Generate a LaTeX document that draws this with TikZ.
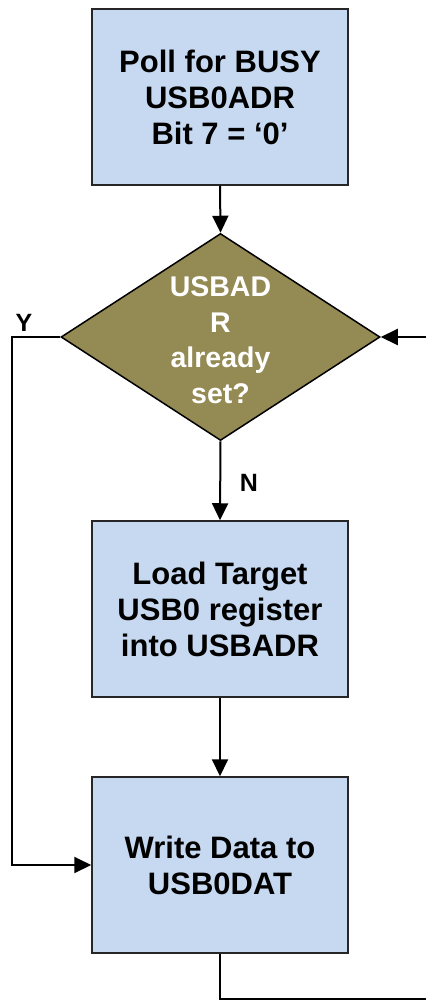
\documentclass[tikz,border=0pt]{standalone}
\usepackage{fontspec}
\setmainfont{Liberation Sans}
\usetikzlibrary{arrows.meta,shapes.geometric}
\definecolor{boxblue}{HTML}{C6D9F1}
\definecolor{olive}{HTML}{948A54}
\begin{document}
\begin{tikzpicture}[x=1pt,y=1pt,
  procbox/.style={draw=black!85,line width=1.5pt,fill=boxblue,minimum width=256pt,minimum height=176pt,inner sep=0pt},
  btxt/.style={font=\fontsize{31}{36}\selectfont\bfseries,align=center,inner sep=0pt},
  dtxt/.style={font=\fontsize{28.5}{35.5}\selectfont\bfseries,align=center,inner sep=0pt,text=white},
  dia/.style={draw=black,line width=1.5pt,fill=olive,diamond,minimum width=319pt,minimum height=207pt,inner sep=0pt},
  conn/.style={line width=2pt,-{Triangle[length=17pt 0,width=16pt 0]}},
  plain/.style={line width=2pt},
  lbl/.style={font=\fontsize{25}{28}\selectfont\bfseries,inner sep=0pt}]
\useasboundingbox (0,0) rectangle (426,-1001);
\node[procbox] (poll) at (220,-97) {};
\node[btxt] at (poll) {Poll for BUSY\\USB0ADR\\Bit 7 = ‘0’};
\node[dia] (d) at (220.5,-337) {};
\node[dtxt] at (220.5,-340) {USBAD\\R\\already\\set?};
\node[procbox] (load) at (220,-609) {};
\node[btxt] at (load) {Load Target\\USB0 register\\into USBADR};
\node[procbox] (write) at (220,-865) {};
\node[btxt] at (write) {Write Data to\\USB0DAT};
\node[lbl] (y) at (24,-323) {Y};
\node[lbl] (n) at (249,-483) {N};
\coordinate (rin) at (426,-337);
\coordinate (bl) at (12,-337);
\coordinate (bout) at (426,-999);
\draw[conn] (poll.south) -- (d.north);
\draw[conn] (d.south) -- (load.north);
\draw[conn] (load.south) -- (write.north);
\draw[conn] (d.west) -- (bl) |- (write.west);
\draw[conn] (rin) -- (d.east);
\draw[plain] (write.south) |- (bout);
\end{tikzpicture}
\end{document}
